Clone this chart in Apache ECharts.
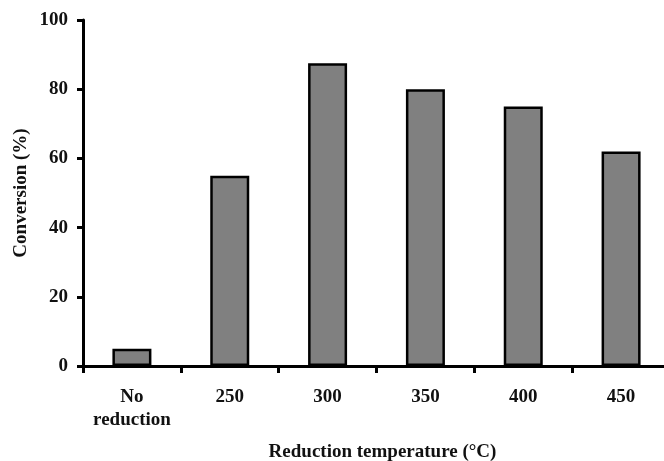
<!DOCTYPE html>
<html><head><meta charset="utf-8">
<script src="https://cdn.jsdelivr.net/npm/echarts@6/dist/echarts.min.js"></script>
<style>html,body{margin:0;padding:0;background:#fff}#c{width:664px;height:461px}</style>
</head><body><div id="c"></div>
<script>
const categories = ["No\nreduction", "250", "300", "350", "400", "450"];
const conversion = [5, 55, 87.5, 80, 75, 62];
const yTicks = [0, 20, 40, 60, 80, 100];

const font = "'Liberation Serif', 'Times New Roman', serif";
const chart = echarts.init(document.getElementById('c'), null, {renderer: 'canvas'});
chart.setOption({
  animation: false,
  backgroundColor: '#fff',
  grid: {left: 83, right: -6, top: 20, bottom: 95, containLabel: false, outerBoundsMode: 'none'},
  xAxis: {
    type: 'category',
    data: categories,
    boundaryGap: true,
    name: 'Reduction temperature (°C)',
    nameLocation: 'middle',
    nameGap: 77,
    nameMoveOverlap: false,
    nameTextStyle: {fontFamily: font, fontWeight: 'bold', fontSize: 19, color: '#111', padding: [0, 0, 0, 12]},
    axisLine: {lineStyle: {color: '#000', width: 3}},
    axisTick: {show: true, alignWithLabel: false, length: 7, inside: false, lineStyle: {color: '#000', width: 3}},
    axisLabel: {fontFamily: font, fontWeight: 'bold', fontSize: 19, color: '#111', margin: 20, lineHeight: 23, interval: 0}
  },
  yAxis: {
    type: 'value',
    min: yTicks[0],
    max: yTicks[yTicks.length - 1],
    interval: 20,
    name: 'Conversion (%)',
    nameLocation: 'middle',
    nameGap: 52,
    nameRotate: 90,
    nameMoveOverlap: false,
    nameTextStyle: {fontFamily: font, fontWeight: 'bold', fontSize: 19, color: '#111'},
    axisLine: {show: true, lineStyle: {color: '#000', width: 3}},
    axisTick: {show: true, length: 6, lineStyle: {color: '#000', width: 3}},
    splitLine: {show: false},
    axisLabel: {fontFamily: font, fontWeight: 'bold', fontSize: 19, color: '#111', margin: 15}
  },
  series: [{
    type: 'bar',
    data: conversion,
    barWidth: 39,
    itemStyle: {color: '#808080', borderColor: '#000', borderWidth: 2.5}
  }]
});
</script></body></html>
